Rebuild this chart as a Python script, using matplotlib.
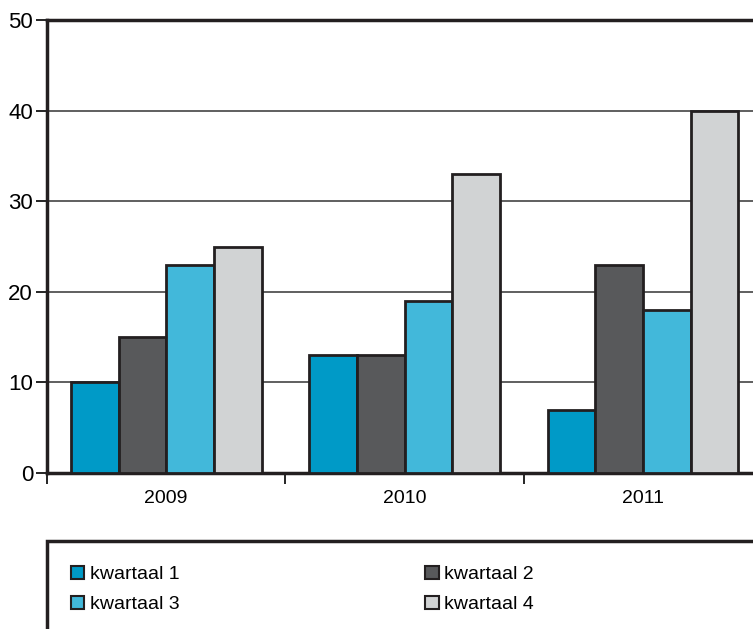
import matplotlib
matplotlib.use('Agg')
import matplotlib.pyplot as plt
import numpy as np
from matplotlib.patches import Rectangle, Patch

plt.rcParams['font.family'] = ['Liberation Sans', 'DejaVu Sans']

years = ['2009', '2010', '2011']
series = ['kwartaal 1', 'kwartaal 2', 'kwartaal 3', 'kwartaal 4']
kwartaal1 = [10, 13, 7]
kwartaal2 = [15, 13, 23]
kwartaal3 = [23, 19, 18]
kwartaal4 = [25, 33, 40]
colors = ['#009ac7', '#58595b', '#42b8da', '#d1d3d4']

W, H = 753, 629
fig = plt.figure(figsize=(W / 100, H / 100), dpi=100)
ax = fig.add_axes([47 / W, 1 - 473 / H, 1 - 47 / W + 0.012, (473 - 20) / H])

x = np.arange(len(years))
barw = 0.2
values = [kwartaal1, kwartaal2, kwartaal3, kwartaal4]
for i, (vals, c) in enumerate(zip(values, colors)):
    ax.bar(x - 0.3 + i * barw, vals, barw, color=c, edgecolor='#231f20',
           linewidth=2, zorder=3)

ax.set_ylim(0, 50)
ax.set_xlim(-0.5, 2.5)
ax.set_yticks([0, 10, 20, 30, 40, 50])
ax.yaxis.grid(True, color='#444444', linewidth=1.2, zorder=0)
ax.set_xticks(x)
ax.set_xticklabels(years)
ax.set_xticks([-0.5, 0.5, 1.5, 2.5], minor=True)
ax.tick_params(axis='x', which='major', length=0, pad=12, labelsize=14)
ax.tick_params(axis='x', which='minor', length=8, width=1.2, direction='out')
ax.tick_params(axis='y', length=8, width=1.2, direction='out', labelsize=16,
               pad=2)
for s in ['left', 'bottom', 'top']:
    ax.spines[s].set_linewidth(2.5)
    ax.spines[s].set_color('#231f20')
ax.spines['right'].set_visible(False)

# legend box
fig.patches.append(Rectangle((47 / W, -0.05), 1.0, (629 - 541) / H + 0.05,
                             transform=fig.transFigure, fill=False,
                             edgecolor='#231f20', linewidth=2.5))
# legend fills column by column, so order handles to read row by row
order = [0, 2, 1, 3]
handles = [Patch(facecolor=colors[k], edgecolor='#231f20', linewidth=1.5) for k in order]
labels = [series[k] for k in order]
fig.legend(handles, labels, loc='upper left', bbox_to_anchor=(65 / W, 1 - 560 / H),
           ncol=2, frameon=False, fontsize=14, handlelength=0.7,
           handleheight=0.7, handletextpad=0.3, columnspacing=12.6,
           labelspacing=0.62, borderaxespad=0, borderpad=0.3)

fig.savefig('out.png', dpi=100)
